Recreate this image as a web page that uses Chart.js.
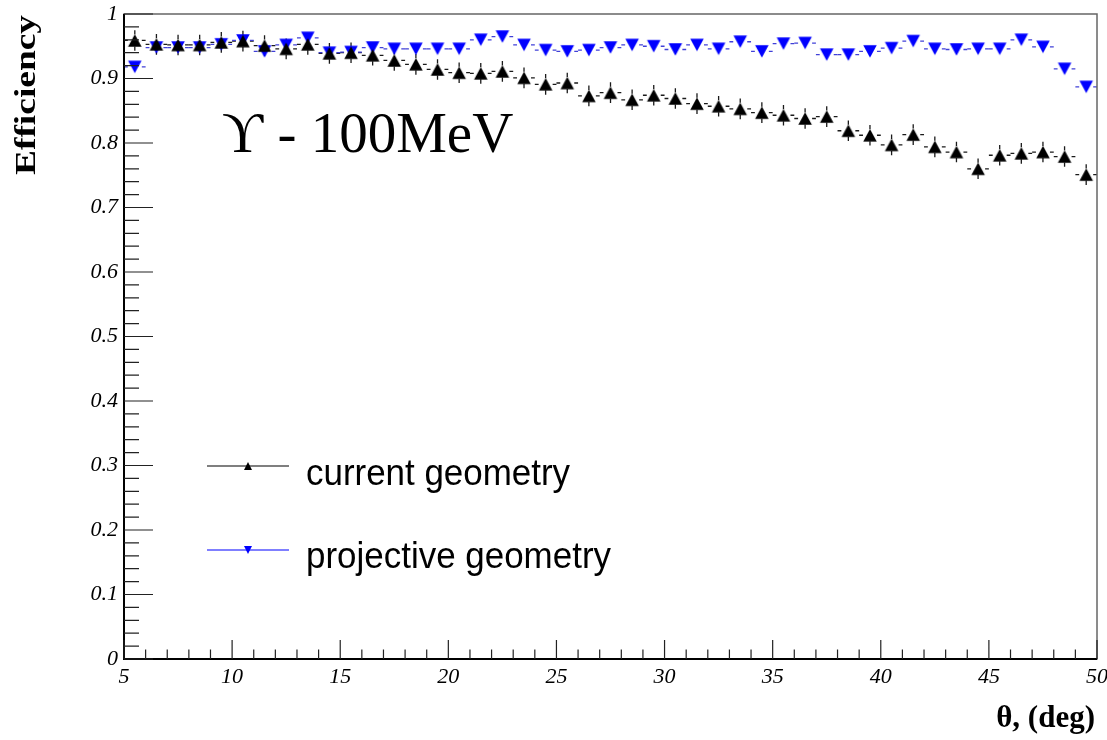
<!DOCTYPE html>
<html><head><meta charset="utf-8">
<script src="https://cdn.jsdelivr.net/npm/chart.js@4.4.1/dist/chart.umd.min.js"></script>
<style>html,body{margin:0;padding:0;background:#fff;} #wrap{width:1107px;height:740px;position:relative;}</style>
</head><body><div id="wrap"><canvas id="c" width="1107" height="740"></canvas></div>
<script>
// ---- data ----
const binCenters = [5.5,6.5,7.5,8.5,9.5,10.5,11.5,12.5,13.5,14.5,15.5,16.5,17.5,18.5,19.5,20.5,21.5,22.5,23.5,24.5,25.5,26.5,27.5,28.5,29.5,30.5,31.5,32.5,33.5,34.5,35.5,36.5,37.5,38.5,39.5,40.5,41.5,42.5,43.5,44.5,45.5,46.5,47.5,48.5,49.5];
const binHalfWidth = 0.5;
const currentEff = [0.959,0.953,0.952,0.952,0.956,0.958,0.951,0.946,0.953,0.939,0.940,0.936,0.928,0.922,0.914,0.909,0.908,0.911,0.901,0.891,0.893,0.873,0.878,0.867,0.874,0.869,0.861,0.857,0.853,0.847,0.843,0.838,0.841,0.819,0.812,0.797,0.813,0.794,0.786,0.760,0.781,0.784,0.786,0.779,0.751];
const currentErr = [0.016,0.016,0.016,0.016,0.016,0.016,0.016,0.016,0.016,0.016,0.016,0.016,0.016,0.016,0.016,0.016,0.016,0.016,0.016,0.016,0.016,0.016,0.016,0.016,0.016,0.016,0.016,0.016,0.016,0.016,0.016,0.016,0.016,0.016,0.016,0.016,0.016,0.016,0.016,0.016,0.016,0.016,0.016,0.016,0.016];
const projectiveEff = [0.918,0.948,0.948,0.948,0.953,0.959,0.942,0.952,0.963,0.940,0.941,0.948,0.946,0.946,0.946,0.946,0.960,0.965,0.952,0.944,0.942,0.944,0.948,0.952,0.950,0.945,0.952,0.946,0.957,0.942,0.954,0.955,0.937,0.937,0.942,0.947,0.958,0.946,0.945,0.946,0.946,0.960,0.949,0.915,0.887];
const projectiveErr = [0.007,0.007,0.007,0.007,0.007,0.007,0.007,0.007,0.007,0.007,0.007,0.007,0.007,0.007,0.007,0.007,0.007,0.007,0.007,0.007,0.007,0.007,0.007,0.007,0.007,0.007,0.007,0.007,0.007,0.007,0.007,0.007,0.007,0.007,0.007,0.007,0.007,0.007,0.007,0.007,0.007,0.007,0.007,0.007,0.007];
const xTicks = [5,10,15,20,25,30,35,40,45,50];
const yTicks = [0,0.1,0.2,0.3,0.4,0.5,0.6,0.7,0.8,0.9,1];
const seriesNames = ['current geometry','projective geometry'];
const annotationText = '\u03D2 - 100MeV';
const xTitle = '\u03B8, (deg)';
const yTitle = 'Efficiency';

const COL_BLACK = '#000000';
const COL_BLUE = '#0000ff';

function pts(vals){ return binCenters.map((x,i)=>({x:x, y:vals[i]})); }

// centered triangle marker (bbox centred on the value, like ROOT)
function triMarker(color, down, w, h){
  const cv = document.createElement('canvas');
  cv.width = Math.ceil(w) + 2; cv.height = Math.ceil(h) + 2;
  const g = cv.getContext('2d');
  const cx = cv.width/2, cy = cv.height/2;
  g.fillStyle = color;
  g.beginPath();
  if (!down){ g.moveTo(cx, cy - h/2); g.lineTo(cx + w/2, cy + h/2); g.lineTo(cx - w/2, cy + h/2); }
  else { g.moveTo(cx, cy + h/2); g.lineTo(cx + w/2, cy - h/2); g.lineTo(cx - w/2, cy - h/2); }
  g.closePath(); g.fill();
  return cv;
}
const mkUp = triMarker(COL_BLACK, false, 13.5, 12.5);
const mkDown = triMarker(COL_BLUE, true, 13.5, 12.5);
const mkUpSmall = triMarker(COL_BLACK, false, 8, 8);
const mkDownSmall = triMarker(COL_BLUE, true, 8, 8);

const errPlugin = {
  id:'errbars',
  beforeDatasetsDraw(chart){
    const ctx = chart.ctx, xs = chart.scales.x, ys = chart.scales.y;
    const sets = [
      {v:currentEff, e:currentErr, line:'#1a1a1a', hgap:7, vgap:6},
      {v:projectiveEff, e:projectiveErr, line:'#4040d8', hgap:7, vgap:6}
    ];
    ctx.save();
    ctx.lineWidth = 1.3;
    sets.forEach(s=>{
      ctx.strokeStyle = s.line;
      binCenters.forEach((c,i)=>{
        const px = xs.getPixelForValue(c), py = ys.getPixelForValue(s.v[i]);
        const l = xs.getPixelForValue(c-binHalfWidth), r = xs.getPixelForValue(c+binHalfWidth);
        const t = ys.getPixelForValue(s.v[i]+s.e[i]), b = ys.getPixelForValue(s.v[i]-s.e[i]);
        ctx.beginPath();
        ctx.moveTo(l, py); ctx.lineTo(px - s.hgap, py);
        ctx.moveTo(px + s.hgap, py); ctx.lineTo(r, py);
        if (py - t > s.vgap){ ctx.moveTo(px, t); ctx.lineTo(px, py - s.vgap); }
        if (b - py > s.vgap){ ctx.moveTo(px, py + s.vgap); ctx.lineTo(px, b); }
        ctx.stroke();
      });
    });
    ctx.restore();
  },
  afterDraw(chart){
    const ctx = chart.ctx, xs = chart.scales.x, ys = chart.scales.y, a = chart.chartArea;
    ctx.save();
    // frame
    ctx.strokeStyle = '#666';
    ctx.lineWidth = 1.5;
    ctx.strokeRect(a.left, a.top, a.right - a.left, a.bottom - a.top);
    // axes
    ctx.strokeStyle = '#000';
    ctx.lineWidth = 2;
    ctx.beginPath();
    ctx.moveTo(a.left, a.top); ctx.lineTo(a.left, a.bottom); ctx.lineTo(a.right, a.bottom);
    ctx.stroke();
    // ticks
    ctx.lineWidth = 1.2;
    ctx.strokeStyle = '#222';
    ctx.beginPath();
    for (let k=0;k<xTicks.length;k++){
      const px = xs.getPixelForValue(xTicks[k]);
      ctx.moveTo(px, a.bottom); ctx.lineTo(px, a.bottom - 19);
      if (k < xTicks.length-1){
        const step = (xTicks[k+1]-xTicks[k])/5;
        for (let m=1;m<5;m++){
          const mx = xs.getPixelForValue(xTicks[k]+m*step);
          ctx.moveTo(mx, a.bottom); ctx.lineTo(mx, a.bottom - 9.5);
        }
      }
    }
    for (let k=0;k<yTicks.length;k++){
      const py = ys.getPixelForValue(yTicks[k]);
      ctx.moveTo(a.left, py); ctx.lineTo(a.left + 29, py);
      if (k < yTicks.length-1){
        const step = (yTicks[k+1]-yTicks[k])/5;
        for (let m=1;m<5;m++){
          const my = ys.getPixelForValue(yTicks[k]+m*step);
          ctx.moveTo(a.left, my); ctx.lineTo(a.left + 15, my);
        }
      }
    }
    ctx.stroke();

    // annotation
    ctx.fillStyle = '#000';
    ctx.font = '57px "Liberation Serif", "DejaVu Serif", serif';
    ctx.textAlign = 'left'; ctx.textBaseline = 'alphabetic';
    ctx.fillText(annotationText, 222, 152);

    // y title
    ctx.save();
    ctx.font = 'bold 30px "Liberation Serif", serif';
    const wy = ctx.measureText(yTitle).width;
    ctx.translate(35, 95);
    ctx.rotate(-Math.PI/2);
    ctx.scale(160/wy, 1);
    ctx.textAlign = 'center';
    ctx.fillText(yTitle, 0, 0);
    ctx.restore();

    // x title
    ctx.font = 'bold 31px "Liberation Serif", serif';
    ctx.textAlign = 'right';
    ctx.fillText(xTitle, 1095, 727);

    // legend
    const legendItems = [
      {name:seriesNames[0], col:COL_BLACK, ly:466, base:485, w:264, mk:mkUpSmall},
      {name:seriesNames[1], col:COL_BLUE, ly:550, base:568, w:305, mk:mkDownSmall}
    ];
    legendItems.forEach(it=>{
      ctx.strokeStyle = it.col; ctx.lineWidth = 1.2;
      ctx.beginPath(); ctx.moveTo(207, it.ly); ctx.lineTo(289, it.ly); ctx.stroke();
      ctx.drawImage(it.mk, 248 - it.mk.width/2, it.ly - it.mk.height/2);
      ctx.save();
      ctx.fillStyle = '#000';
      ctx.font = '37px "Liberation Sans", Arial, sans-serif';
      ctx.textAlign = 'left';
      const w = ctx.measureText(it.name).width;
      ctx.translate(306, it.base);
      ctx.scale(it.w / w, 1);
      ctx.fillText(it.name, 0, 0);
      ctx.restore();
    });
    ctx.restore();
  }
};

new Chart(document.getElementById('c'), {
  type:'scatter',
  data:{ datasets:[
    { label:seriesNames[0], data:pts(currentEff), showLine:false, pointStyle:mkUp, pointRadius:7, pointHoverRadius:7, backgroundColor:COL_BLACK, borderColor:COL_BLACK },
    { label:seriesNames[1], data:pts(projectiveEff), showLine:false, pointStyle:mkDown, pointRadius:7, pointHoverRadius:7, backgroundColor:COL_BLUE, borderColor:COL_BLUE }
  ]},
  options:{
    responsive:false, animation:false, devicePixelRatio:1,
    layout:{ padding:{ top:14, right:10, left:0, bottom:0 } },
    plugins:{ legend:{display:false}, tooltip:{enabled:false} },
    events:[],
    scales:{
      x:{ type:'linear', min:5, max:50,
        afterBuildTicks(s){ s.ticks = xTicks.map(v=>({value:v})); },
        afterFit(s){ s.height = 81; s.paddingLeft = 0; s.paddingRight = 0; },
        grid:{display:false, drawTicks:false}, border:{display:false},
        ticks:{ autoSkip:false, maxRotation:0, padding:5, color:'#000',
          font:{family:'"Liberation Serif", serif', style:'italic', size:22} }
      },
      y:{ type:'linear', min:0, max:1,
        afterBuildTicks(s){ s.ticks = yTicks.map(v=>({value:v})); },
        afterFit(s){ s.width = 124; s.paddingTop = 0; s.paddingBottom = 0; },
        grid:{display:false, drawTicks:false}, border:{display:false},
        ticks:{ autoSkip:false, padding:6, color:'#000',
          font:{family:'"Liberation Serif", serif', style:'italic', size:22},
          callback:(v)=> String(Math.round(v*10)/10) }
      }
    }
  },
  plugins:[errPlugin]
});
</script></body></html>
